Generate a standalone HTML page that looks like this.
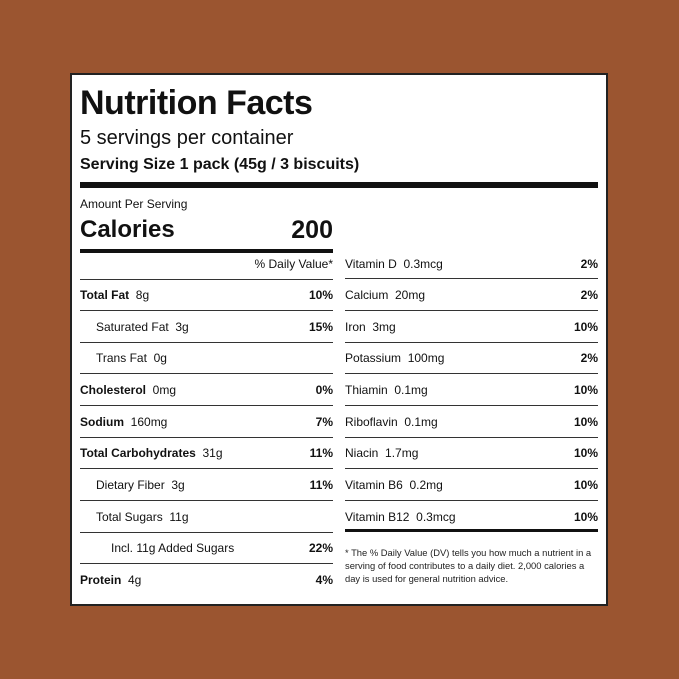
<!DOCTYPE html>
<html><head><style>
body{margin:0;width:679px;height:679px;background:#9b5530;position:relative;overflow:hidden;font-family:"Liberation Sans",sans-serif;color:#111}
.box{position:absolute;left:70px;top:73px;width:534px;height:529px;background:#fff;border:2px solid #222}
.a{position:absolute;white-space:nowrap}
.h{position:absolute;height:1px;background:#333}
.r{position:absolute;font-size:12px;height:20px;line-height:20px}
.r span.p{position:absolute;right:0;font-weight:bold}
b{font-weight:bold}
</style></head><body>
<div class="box"></div>
<div class="a" style="left:80px;top:84px;font-size:34px;font-weight:bold;letter-spacing:-0.5px">Nutrition Facts</div>
<div class="a" style="left:80px;top:127px;font-size:20px">5 servings per container</div>
<div class="a" style="left:80px;top:156px;font-size:16px;font-weight:bold">Serving Size 1 pack (45g / 3 biscuits)</div>
<div class="h" style="left:80px;top:182px;width:518px;height:6px;background:#111"></div>
<div class="a" style="left:80px;top:197px;font-size:12px">Amount Per Serving</div>
<div class="a" style="left:80px;top:216px;font-size:24px;font-weight:bold">Calories</div>
<div class="a" style="left:200px;width:133px;text-align:right;top:216px;font-size:25px;font-weight:bold">200</div>
<div class="h" style="left:80px;top:249px;width:253px;height:4px;background:#111"></div>

<div class="r" style="left:80px;top:254px;width:253px"><span class="p" style="font-weight:normal;font-size:12px">% Daily Value*</span></div>
<div class="h" style="left:80px;top:279px;width:253px"></div>
<div class="r" style="left:80px;top:285px;width:253px"><b>Total Fat</b>&nbsp; 8g<span class="p">10%</span></div>
<div class="h" style="left:80px;top:310px;width:253px"></div>
<div class="r" style="left:96px;top:317px;width:237px">Saturated Fat&nbsp; 3g<span class="p">15%</span></div>
<div class="h" style="left:80px;top:342px;width:253px"></div>
<div class="r" style="left:96px;top:348px;width:237px">Trans Fat&nbsp; 0g</div>
<div class="h" style="left:80px;top:373px;width:253px"></div>
<div class="r" style="left:80px;top:380px;width:253px"><b>Cholesterol</b>&nbsp; 0mg<span class="p">0%</span></div>
<div class="h" style="left:80px;top:405px;width:253px"></div>
<div class="r" style="left:80px;top:412px;width:253px"><b>Sodium</b>&nbsp; 160mg<span class="p">7%</span></div>
<div class="h" style="left:80px;top:437px;width:253px"></div>
<div class="r" style="left:80px;top:443px;width:253px"><b>Total Carbohydrates</b>&nbsp; 31g<span class="p">11%</span></div>
<div class="h" style="left:80px;top:468px;width:253px"></div>
<div class="r" style="left:96px;top:475px;width:237px">Dietary Fiber&nbsp; 3g<span class="p">11%</span></div>
<div class="h" style="left:80px;top:500px;width:253px"></div>
<div class="r" style="left:96px;top:507px;width:237px">Total Sugars&nbsp; 11g</div>
<div class="h" style="left:80px;top:532px;width:253px"></div>
<div class="r" style="left:111px;top:538px;width:222px">Incl. 11g Added Sugars<span class="p">22%</span></div>
<div class="h" style="left:80px;top:563px;width:253px"></div>
<div class="r" style="left:80px;top:570px;width:253px"><b>Protein</b>&nbsp; 4g<span class="p">4%</span></div>

<div class="r" style="left:345px;top:254px;width:253px">Vitamin D&nbsp; 0.3mcg<span class="p">2%</span></div>
<div class="h" style="left:345px;top:278px;width:253px"></div>
<div class="r" style="left:345px;top:285px;width:253px">Calcium&nbsp; 20mg<span class="p">2%</span></div>
<div class="h" style="left:345px;top:310px;width:253px"></div>
<div class="r" style="left:345px;top:317px;width:253px">Iron&nbsp; 3mg<span class="p">10%</span></div>
<div class="h" style="left:345px;top:342px;width:253px"></div>
<div class="r" style="left:345px;top:348px;width:253px">Potassium&nbsp; 100mg<span class="p">2%</span></div>
<div class="h" style="left:345px;top:373px;width:253px"></div>
<div class="r" style="left:345px;top:380px;width:253px">Thiamin&nbsp; 0.1mg<span class="p">10%</span></div>
<div class="h" style="left:345px;top:405px;width:253px"></div>
<div class="r" style="left:345px;top:412px;width:253px">Riboflavin&nbsp; 0.1mg<span class="p">10%</span></div>
<div class="h" style="left:345px;top:437px;width:253px"></div>
<div class="r" style="left:345px;top:443px;width:253px">Niacin&nbsp; 1.7mg<span class="p">10%</span></div>
<div class="h" style="left:345px;top:468px;width:253px"></div>
<div class="r" style="left:345px;top:475px;width:253px">Vitamin B6&nbsp; 0.2mg<span class="p">10%</span></div>
<div class="h" style="left:345px;top:500px;width:253px"></div>
<div class="r" style="left:345px;top:507px;width:253px">Vitamin B12&nbsp; 0.3mcg<span class="p">10%</span></div>
<div class="h" style="left:345px;top:529px;width:253px;height:3px;background:#111"></div>
<div class="a" style="left:345px;top:546px;font-size:9.4px;line-height:13px;color:#222">* The % Daily Value (DV) tells you how much a nutrient in a<br>serving of food contributes to a daily diet. 2,000 calories a<br>day is used for general nutrition advice.</div>
</body></html>
